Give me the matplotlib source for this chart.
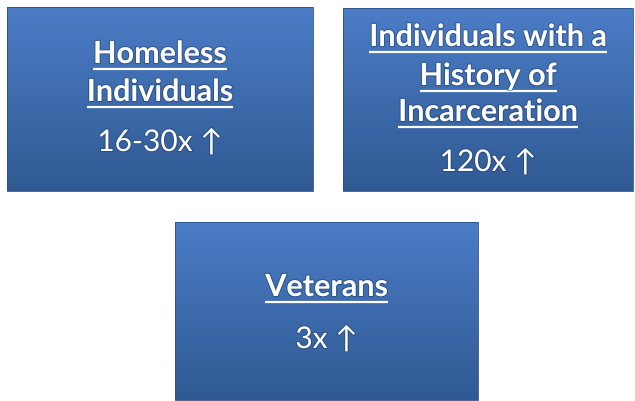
import matplotlib
matplotlib.use("Agg")
import matplotlib.pyplot as plt
import matplotlib.patches as mpatches
import matplotlib.patheffects as pe
import numpy as np

# groups and their risk multipliers
TITLES = [
    ["Homeless", "Individuals"],
    ["Individuals with a", "History of", "Incarceration"],
    ["Veterans"],
]
MULTIPLIERS = ["16-30x", "120x", "3x"]

# box layout in pixels (x0, y0, x1, y1), y measured from the top
BOXES = [(7, 8, 313, 192), (343, 9, 633, 192), (175, 223, 478, 401)]
TITLE_Y = [[55, 93], [38, 77, 113], [288]]
VALUE_Y = [143, 163, 340]

W, H = 635, 402
FAMILY = ["Lato", "DejaVu Sans"]
TOP, BOTTOM = np.array([0x4b, 0x7c, 0xc6]) / 255, np.array([0x30, 0x5a, 0x93]) / 255

fig = plt.figure(figsize=(W / 100, H / 100), dpi=100)
ax = fig.add_axes([0, 0, 1, 1])
ax.set_xlim(0, W)
ax.set_ylim(H, 0)
ax.set_axis_off()

shadow = [pe.withStroke(linewidth=1.5, foreground="#1c3a66", alpha=0.5)]

texts = []
for (x0, y0, x1, y1), lines, ys, val, vy in zip(BOXES, TITLES, TITLE_Y,
                                                MULTIPLIERS, VALUE_Y):
    rect = mpatches.Rectangle((x0, y0), x1 - x0, y1 - y0, facecolor="none",
                              edgecolor="#2a4f85", linewidth=0.6)
    ax.add_patch(rect)
    t = np.linspace(0, 1, 64)[:, None]
    grad = TOP[None, None, :] * (1 - t[..., None]) + BOTTOM[None, None, :] * t[..., None]
    im = ax.imshow(np.repeat(grad, 2, axis=1), extent=(x0, x1, y1, y0),
                   aspect="auto", interpolation="bilinear", zorder=0)
    im.set_clip_path(rect)
    cx = (x0 + x1) / 2
    for line, y in zip(lines, ys):
        tx = ax.text(cx, y, line, ha="center", va="center", color="white",
                     fontsize=22, fontweight="bold", family=FAMILY,
                     path_effects=shadow)
        texts.append(tx)
    ax.text(cx, vy, f"{val} \u2191", ha="center", va="center", color="white",
            fontsize=21.5, family=FAMILY, path_effects=shadow)

# underline each title line
fig.canvas.draw()
r = fig.canvas.get_renderer()
for tx in texts:
    bb = tx.get_window_extent(r)
    xa, _ = ax.transData.inverted().transform((bb.x0, bb.y0))
    xb, _ = ax.transData.inverted().transform((bb.x1, bb.y0))
    _, yc = tx.get_position()
    ax.plot([xa, xb], [yc + 15, yc + 15], color="white", linewidth=1.6,
            solid_capstyle="butt", path_effects=shadow)

fig.savefig("out.png", dpi=100)
